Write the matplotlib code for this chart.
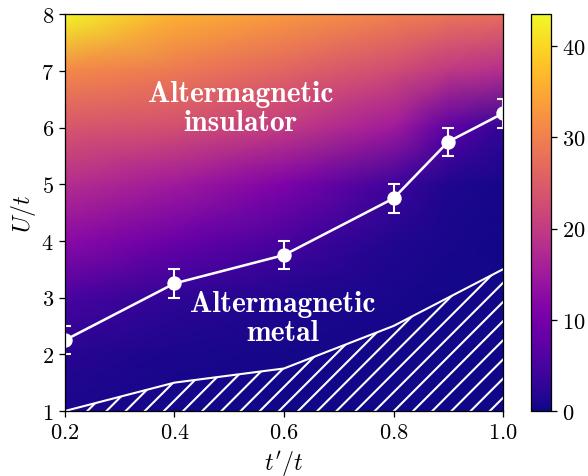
import matplotlib
matplotlib.use('Agg')
import matplotlib.pyplot as plt
import numpy as np

plt.rcParams['font.family'] = 'serif'
plt.rcParams['font.serif'] = ['cmr10']
plt.rcParams['mathtext.fontset'] = 'cm'
plt.rcParams['axes.formatter.use_mathtext'] = True
plt.rcParams['axes.unicode_minus'] = False
plt.rcParams['hatch.linewidth'] = 1.3

# gap map, rows are U/t, columns are t'/t
t_grid = [0.2, 0.4, 0.6, 0.8, 0.9, 1.0]
U_grid = [1, 2, 3, 4, 5, 6, 7, 8]
gap = [
    [1.0, 0.5, 0.3, 0.2, 0.2, 0.2],
    [2.0, 1.0, 0.6, 0.4, 0.3, 0.3],
    [5.2, 2.6, 1.2, 0.7, 0.5, 0.4],
    [12.5, 8.7, 5.0, 1.5, 0.8, 0.5],
    [18.0, 15.0, 11.0, 4.0, 1.3, 0.6],
    [24.0, 23.0, 20.0, 15.0, 7.0, 3.0],
    [31.0, 29.0, 26.0, 22.5, 19.5, 18.0],
    [43.0, 36.0, 33.0, 30.0, 28.5, 27.5],
]

# metal-insulator transition
t_c = [0.2, 0.4, 0.6, 0.8, 0.9, 1.0]
U_c = [2.25, 3.25, 3.75, 4.75, 5.75, 6.25]
U_err = [0.25, 0.25, 0.25, 0.25, 0.25, 0.25]

# lower boundary of hatched region
t_b = [0.2, 0.4, 0.6, 0.8, 0.9, 1.0]
U_b = [1.0, 1.5, 1.75, 2.5, 3.0, 3.5]

dpi = 115
fig = plt.figure(figsize=(588 / dpi, 477 / dpi), dpi=dpi)
ax = fig.add_axes([0.1105, 0.1363, 0.745, 0.832])
cax = fig.add_axes([0.903, 0.1363, 0.034, 0.832])

mesh = ax.pcolormesh(t_grid, U_grid, np.array(gap), cmap='plasma',
                     shading='gouraud', vmin=0, vmax=43.5, rasterized=True)

ax.fill_between(t_b, 1, U_b, facecolor='none', edgecolor='white',
                hatch='//', linewidth=0)
ax.plot(t_b, U_b, color='white', lw=1.3)

ax.errorbar(t_c, U_c, yerr=U_err, color='white', marker='o', ms=8,
            lw=1.6, capsize=3.5, capthick=1.3, elinewidth=1.3)

ax.text(0.52, 6.35, 'Altermagnetic\ninsulator', color='white', ha='center',
        va='center', fontsize=18.5, family='cmb10', linespacing=1.1)
ax.text(0.598, 2.64, 'Altermagnetic\nmetal', color='white', ha='center',
        va='center', fontsize=18.5, family='cmb10', linespacing=1.1)

ax.set_xlim(0.2, 1.0)
ax.set_ylim(1, 8)
ax.set_xticks([0.2, 0.4, 0.6, 0.8, 1.0])
ax.set_yticks([1, 2, 3, 4, 5, 6, 7, 8])
ax.tick_params(labelsize=14)
ax.set_xlabel(r"$t'/t$", fontsize=15)
ax.set_ylabel(r"$U/t$", fontsize=15, labelpad=2)

cb = fig.colorbar(mesh, cax=cax)
cb.set_ticks([0, 10, 20, 30, 40])
cb.ax.tick_params(labelsize=14)

fig.savefig('out.png', dpi=dpi)
